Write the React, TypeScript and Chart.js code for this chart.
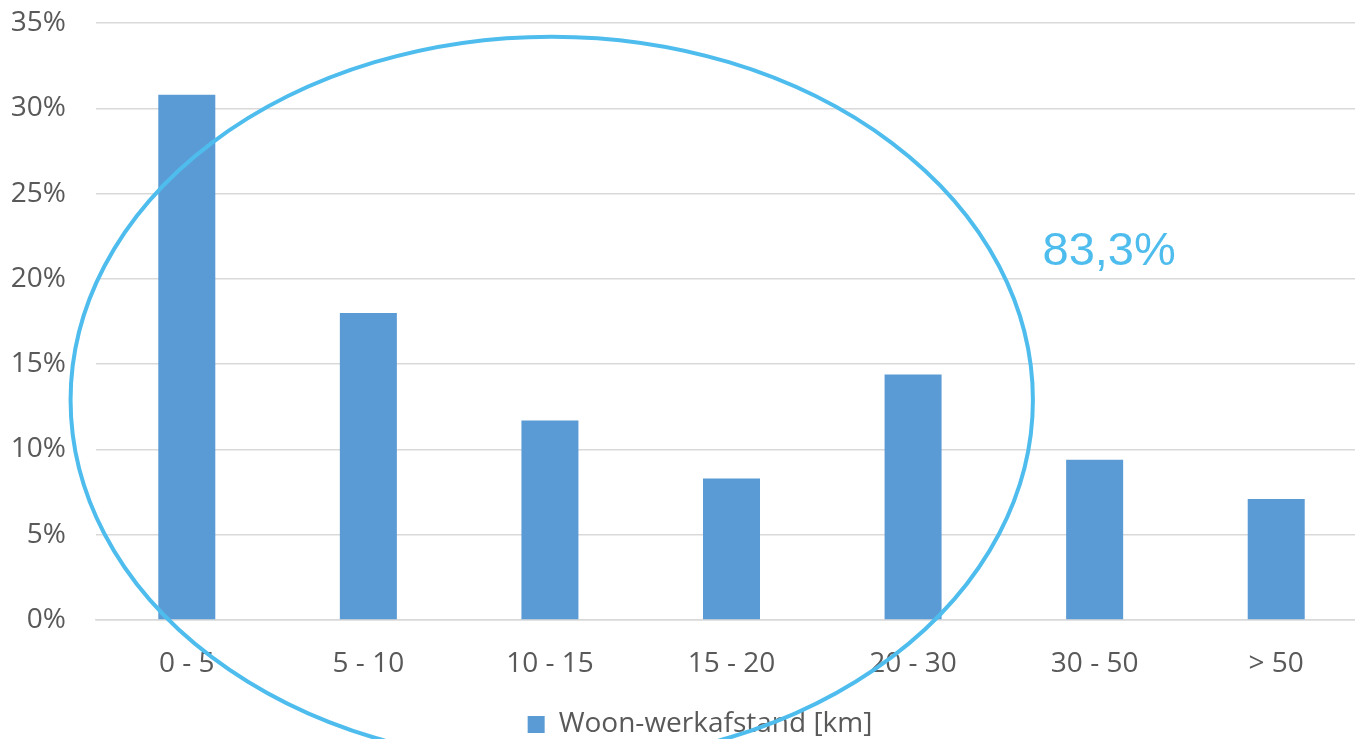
import React, { useEffect, useRef } from "react";
import { Chart, registerables } from "chart.js";

Chart.register(...registerables);

const categories = ["0 - 5", "5 - 10", "10 - 15", "15 - 20", "20 - 30", "30 - 50", "> 50"];
const shares = [30.8, 18.0, 11.7, 8.3, 14.4, 9.4, 7.1];
const seriesLabel = "Woon-werkafstand [km]";
const yTicks = [0, 5, 10, 15, 20, 25, 30, 35];

// annotation (ellipse around first five classes + its label), in data units
const ellipseCenter = [2.01, 12.9]; // [category index, percent]
const ellipseRadius = [2.65, 21.3]; // [category units, percent units]
const annotationText = "83,3%";
const annotationAt = [5.08, 20.8];

const BAR = "#5B9BD5";
const HILITE = "#4EBDEE";
const TXT = "#595959";
const GRID = "#D9D9D9";

const ellipsePlugin = {
  id: "ellipseNote",
  afterLayout(chart: any) {
    // centre the legend like the original (its chart extends past the crop)
    const l = chart.legend;
    if (l) {
      const shift = 700 - (l.left + l.right) / 2;
      l.left += shift;
      l.right += shift;
    }
  },
  afterDatasetsDraw(chart: any) {
    const x = chart.scales.x;
    const y = chart.scales.y;
    const px = (i: number) => {
      const a = x.getPixelForTick(0);
      const b = x.getPixelForTick(1);
      return a + (b - a) * i;
    };
    const cx = px(ellipseCenter[0]);
    const cy = y.getPixelForValue(ellipseCenter[1]);
    const rx = Math.abs(px(ellipseRadius[0]) - px(0));
    const ry = Math.abs(y.getPixelForValue(0) - y.getPixelForValue(ellipseRadius[1]));
    const ctx = chart.ctx;
    ctx.save();
    ctx.beginPath();
    ctx.ellipse(cx, cy, rx, ry, 0, 0, Math.PI * 2);
    ctx.strokeStyle = HILITE;
    ctx.lineWidth = 4;
    ctx.stroke();
    ctx.fillStyle = HILITE;
    ctx.font = "47px 'Liberation Sans', Arial, sans-serif";
    ctx.textAlign = "center";
    ctx.textBaseline = "alphabetic";
    ctx.fillText(annotationText, px(annotationAt[0]), y.getPixelForValue(annotationAt[1]));
    ctx.restore();
  },
};

export default function App() {
  const ref = useRef<HTMLCanvasElement | null>(null);
  useEffect(() => {
    if (!ref.current) return;
    const font = { family: "'Open Sans', 'Noto Sans', sans-serif", size: 28 };
    const chart = new Chart(ref.current, {
      type: "bar",
      data: {
        labels: categories,
        datasets: [
          {
            label: seriesLabel,
            data: shares,
            backgroundColor: BAR,
            borderWidth: 0,
            categoryPercentage: 1,
            barPercentage: 0.314,
          },
        ],
      },
      options: {
        responsive: false,
        animation: false,
        devicePixelRatio: 1,
        layout: { padding: { left: 0, right: 3, top: 23, bottom: -9.5 } },
        plugins: {
          legend: {
            position: "bottom",
            labels: {
              color: TXT,
              font: { ...font, lineHeight: 1 },
              boxWidth: 17,
              boxHeight: 17,
              padding: 0,
            },
          },
          tooltip: { enabled: false },
        },
        scales: {
          x: {
            grid: { display: false },
            border: { display: true, color: GRID, width: 1.5 },
            ticks: { color: TXT, font, padding: 19, maxRotation: 0 },
            afterFit(s: any) {
              s.height = 90.5;
            },
          },
          y: {
            min: 0,
            max: 35,
            afterBuildTicks(s: any) {
              s.ticks = yTicks.map((v) => ({ value: v }));
            },
            grid: { color: GRID, lineWidth: 1.5, drawTicks: true, tickLength: 30, tickColor: "rgba(0,0,0,0)" },
            border: { display: false },
            ticks: {
              color: TXT,
              font,
              padding: 0,
              callback: (v: any) => v + "%",
            },
            afterFit(s: any) {
              s.width = 96;
            },
          },
        },
      },
      plugins: [ellipsePlugin],
    });
    return () => chart.destroy();
  }, []);
  return (
    <div style={{ position: "fixed", left: 0, top: 0, width: "100vw", height: "100vh", overflow: "hidden", background: "#fff" }}>
      <canvas ref={ref} width={1370} height={739} style={{ position: "absolute", left: 0, top: 0, width: 1370, height: 739 }} />
    </div>
  );
}
